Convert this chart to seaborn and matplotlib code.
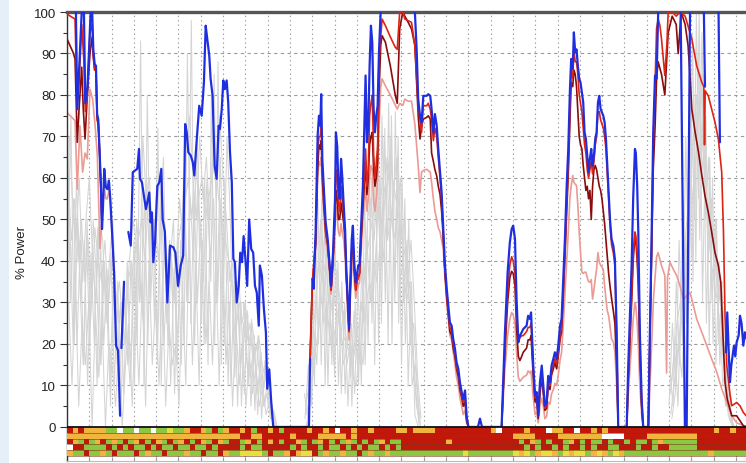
import numpy as np
import matplotlib
matplotlib.use("Agg")
import matplotlib.pyplot as plt
import seaborn as sns
from matplotlib.colors import ListedColormap
from matplotlib.patches import Rectangle

nan = np.nan

# ---------------- data ----------------
BLUE_T = [3.6, 4.0, 4.6, 5.5, 6.6, 7.1, 7.6, 8.2, 9.2, 10.6, 11.0, 11.3, 11.8, 12.4, 13.0, 13.5, 14.0, 14.7,
          15.2, 15.7, 16.1, 16.7, 17.4, 18.1, 18.8, 19.4, 20.2, 21.1, 22.0, 22.9, 23.8, 24.1, 24.4, 25.6, 26.0,
          27.5, 28.6, 29.5, 30.5, 31.5, 32.3, 32.7, 33.6, 34.5, 35.4, 36.9, 37.5, 38.1, 38.7, 39.5, 40.5, 41.4,
          42.3, 42.9, 43.9, 45.0, 46.2, 47.7, 48.6, 49.8, 51.0, 52.1, 53.0, 53.7, 54.4, 55.5, 56.4, 57.1, 58.2,
          59.3, 60.4, 61.4, 62.2, 62.9, 63.8, 64.4, 65.3, 66.2, 67.1, 68.0, 68.6, 69.4, 70.1, 70.8, 71.6, 72.3,
          73.1, 73.9, 74.6, 75.3, 76.1, 77.0, 77.7, 78.5, 79.2, 80.0, 80.8, 81.7, 82.6, 83.5, 84.3, 85.1, 86.0,
          86.5, 87.4, 88.3, 89.2, 89.8, 90.7, 91.6, 92.5, 108.5, 109.0, 109.5,
          110.0, 110.6, 111.5, 112.4, 113.0, 113.6, 114.0, 114.5, 115.1, 116.0, 116.9, 117.8, 118.4, 119.3,
          120.2, 120.6, 121.2, 121.7, 122.3, 122.9, 123.4, 124.1, 124.7, 125.2, 125.9, 126.5, 127.0, 127.7,
          128.2, 128.8, 129.5, 130.0, 130.6, 131.2, 131.8, 132.7, 133.3, 133.9, 134.5, 135.1, 135.7, 136.3,
          136.9, 137.5, 138.1, 138.7, 139.3, 139.9, 140.7, 141.7, 154.7, 156.0, 156.8, 157.5, 158.3, 159.0,
          159.8, 161.3, 162.0, 162.9, 163.5, 164.3, 165.0, 165.8, 166.5, 167.3, 168.0, 168.7, 169.5, 170.3,
          171.0, 171.7, 172.5, 173.2, 174.0, 174.7, 175.5, 176.2, 177.0, 177.7, 178.5, 179.2, 180.0, 184.3,
          185.2, 186.1, 194.9, 196.4, 197.6, 198.6, 199.4, 200.1, 200.9, 201.6, 202.4, 203.1, 203.9, 204.6,
          206.1, 206.8, 207.6, 208.1, 208.6, 209.1, 209.9, 210.6, 211.3, 212.1, 212.9, 213.6, 214.3, 215.1,
          215.8, 216.6, 217.3, 218.1, 218.8, 219.6, 220.3, 221.1, 221.8, 222.5, 223.3, 224.1, 224.8, 225.5,
          226.1, 226.8, 227.3, 227.9, 228.5, 229.1, 229.7, 230.3, 230.9, 231.5, 232.1, 232.7, 233.3, 233.9,
          234.5, 235.1, 235.7, 236.3, 236.9, 237.5, 238.1, 238.7, 239.3, 239.9, 240.5, 241.1, 241.7, 242.3,
          242.9, 243.5, 244.2, 245.0, 245.7, 246.5, 247.2, 251.0, 251.7, 253.2, 253.9, 254.7, 255.1, 255.7,
          256.2, 256.9, 257.7, 258.4, 260.7, 261.4, 262.2, 262.9, 263.7, 264.4, 265.1, 265.9, 274.4, 275.2,
          277.1, 277.9, 279.4, 280.3, 285.2, 286.1, 286.4, 291.9, 292.8, 293.2, 295.5, 296.1, 296.7, 297.3,
          297.9, 299.1, 299.7, 300.3, 301.2, 301.8, 302.5, 303.3, 304.0, 304.9]
BLUE_V = [115, 100, 76.6, 87, 100, 108, 100, 78, 82, 100, 106, 100, 91, 87.5, 87, 75.4, 74.2, 65.4,
          58, 47.7, 52.5, 62.2, 57.8, 57.3, 59.4, 55, 47, 37.3, 19.6, 18.4, 2.7, nan, 19, 35, nan,
          47, 43.7, 61.4, 61.8, 62.2, 67, 59.8, 59, 55.7, 52.5, 56.5, 49.3, 51.7, 39.7, 44.5, 58, 59,
          62.2, 50, 47, 30, 43.7, 43.3, 42, 34, 38.9, 41.3, 73, 71, 66.2, 65.4, 63.8, 60.6, 69.4,
          77.4, 75, 83, 96.7, 93.5, 89.5, 83.9, 79.8, 63, 59.8, 72.6, 71.8, 76.6, 83.5, 81.4, 83.5, 78.2,
          66.2, 59, 40.5, 39.7, 30, 34, 42, 39.7, 46, 40.5, 34, 50, 42.9, 42, 34, 32.4, 24.4,
          38.9, 36.5, 28.4, 22.8, 9.2, 13.9, 5.9, 0, 0, 16.4, nan,
          35.7, 33.3, 47, 70.2, 75, 72.6, 80.2, 64.6, 58.2, 49.3, 45.3, 38.9, 34, 42,
          55, 71, 67.5, 58.2, 55, 64.6, 60.6, 53.3, 47.7, 38.9, 30.8, 23.6, 34, 45.3,
          48.5, 39.7, 34.9, 36.5, 38.9, 38.9, 47, 58.2, 71, 84.7, 68.6, 72.6, 87, 96.7,
          92.7, 76.6, 71, 75, 77.4, 90.3, 100, 115, 115, 100, 91, 79, 75, 73.4,
          79.8, 79.8, 80.2, 79.8, 76.6, 71, 75.4, 72.6, 67, 61.4, 56.5, 48.5, 38.9, 33.3,
          29.2, 25.2, 24.4, 21.2, 18.8, 15.6, 14, 10.8, 8.4, 6.7, 8.8, 2.7, 0, 0,
          2, 0, 0, 22.8, 37.3, 44.5, 47.7, 48.5, 45.3, 30.8, 20.4, 22, 22.8, 23.6,
          24.4, 26.8, 26, 27.6, 21.2, 14.8, 7.6, 8.4, 2.7, 10.8, 14.8, 10, 5.1, 5.9,
          12.3, 10.8, 14.8, 16.4, 18, 16.4, 19.6, 24.4, 26, 34.9, 45.3, 58.2, 67, 80.6,
          88.7, 86.3, 95.1, 90.3, 91, 87, 83.9, 83, 80.6, 78.2, 71, 69.4, 65.4, 61.4,
          64.6, 67, 63, 65.4, 69.4, 71, 78.2, 79.8, 76.6, 75.8, 75, 73.4, 69.4, 63,
          56.5, 50.1, 45.3, 43.7, 40.5, 22.8, 0, 0, 14.8, 38.9, 55, 67, 66, 58.2,
          47, 22.8, 6.7, 0, 0, 22.8, 47, 71, 84.7, 83.9, 100, 115, 115, 100,
          0, 0, 100, 115, 115, 82, nan, 115, 68.6, nan, 18, 27.6, 18.8, 10.8,
          14.8, 19.6, 17, 20.4, 22, 26.8, 25, 19.6, 22.8, 21]

# shared sample times for the mid-chart peaks
B_T = [109.0, 110.0, 111.5, 112.4, 113.0, 113.6, 114.0, 114.5, 115.1, 116.0, 116.9, 117.8, 118.4, 119.3,
       120.2, 120.6, 121.2, 121.7, 122.3, 122.9, 123.4, 124.1, 124.7, 125.2, 125.9, 126.5, 127.0, 127.7,
       128.2, 128.8, 129.5, 130.0, 130.6, 131.2, 131.8, 132.7, 133.3, 133.9, 134.5, 135.1, 135.7, 136.3,
       136.9, 137.5, 138.1, 138.7, 139.3, 139.9, 140.7, 141.3, 142.8, 145.0, 147.2, 148.1, 149.2, 150.6,
       151.5, 153.0, 154.5, 156.0, 157.5, 158.3, 159.0, 159.8, 161.3, 162.0, 162.9, 163.5, 164.3, 165.0,
       165.8, 166.5, 167.3, 168.0, 168.7, 169.5, 170.3, 171.0, 171.7, 172.5, 173.2, 174.0, 174.7, 175.5,
       176.2, 177.0, 177.7, 178.5, 179.2, 180.0]
C_T = [194.9, 196.4, 197.6, 198.6, 199.4, 200.1, 200.9, 201.6, 202.4, 203.1, 203.9, 204.6, 206.1, 206.8,
       207.6, 208.1, 208.6, 209.1, 209.9, 210.6, 211.3, 212.1, 212.9, 213.6, 214.3, 215.1, 215.8, 216.6,
       217.3, 218.1, 218.8, 219.6, 220.3, 221.1, 221.8, 222.5, 223.3, 224.1, 224.8, 225.5, 226.1, 226.8,
       227.3, 227.9, 228.5, 229.1, 229.7, 230.3, 230.9, 231.5, 232.1, 232.7, 233.3, 233.9, 234.5, 235.1,
       235.7, 236.3, 236.9, 237.5, 238.1, 238.7, 239.3, 239.9, 240.5, 241.1, 241.7, 242.3, 242.9, 243.5,
       244.2, 245.0, 245.7, 246.5, 247.2]
D_T = [251.0, 251.7, 253.2, 253.9, 254.7, 255.1, 255.7, 256.2, 256.9, 257.7, 258.4]

RED_A_T = [0, 3.6, 4.6, 5.5, 6.6, 7.6, 8.2, 9.1, 10.3, 11.3, 11.8, 12.4, 13.0, 13.5, 14.0, 14.7, 15.2, 15.7]
RED_A_V = [99.5, 98.3, 77.4, 84, 97, 88, 76, 80, 95, 97, 90, 86, 86, 75, 74, 65.4, 58, 47.7]
RED_B = [16, 35, 45, 66, 70, 70, 73, 62, 56, 47, 44, 38, 33, 41, 52, 62, 60, 54, 52, 58, 55, 51, 46, 38,
         30, 23, 33, 43, 46, 38, 33, 35, 36, 37, 45, 55, 60, 67, 58, 62, 75, 78, 80, 66, 60, 63, 68, 88,
         94, 98.3, 96.7, 94, 91.5, 91, 100, 100, 98.3, 97.9, 97.5, 91.9, 77.4, 74, 71, 77.4, 77.4, 78,
         76.6, 74, 69, 72, 70, 65, 60, 55, 47, 37.5, 32, 28, 24, 23, 20, 17.5, 14.5, 13, 10, 7.5, 6, 7.5, 2, 0]
RED_C = [0, 20, 33, 39, 41, 40, 37, 28, 21, 21.5, 22, 22, 23, 24, 24, 25, 20, 14, 7, 7.5, 2.5, 9.5, 13, 9,
         4.5, 5, 11, 10, 13.5, 15, 16.5, 15, 18, 22, 24, 32, 42, 54, 63, 76, 86, 84, 91, 88, 88, 85, 80,
         78, 76, 72, 68, 66, 62, 60, 62, 64, 61, 64, 68, 70, 76, 76, 74, 73, 72, 70, 67, 61, 55, 49, 44,
         42, 39, 21, 0]
RED_D = [0, 12, 32, 42, 47, 46, 42, 36, 20, 6, 0]
RED_E_T = [260.7, 261.4, 262.2, 262.9, 263.7, 264.4, 265.1, 265.9, 266.6, 268.1, 269.0, 269.6, 271.4, 273.2,
           275.0, 277.2, 279.4, 280.2, 282.4, 284.7, 285.6, 285.9, 286.2, 287.6, 289.1, 290.6, 292.1, 293.6,
           294.4, 295.1, 295.9, 297.3, 298.1, 300.3, 301.8, 303.3, 304.9]
RED_E_V = [0, 22, 45, 68, 82, 96, 98.3, 96.7, 93.5, 84.7, 92, 100, 100, 99, 100, 99, 95, 93.5, 87, 83, 82,
           68, 81, 79.8, 76.6, 73.4, 69.4, 61.4, 47, 26.8, 14.8, 8, 5.1, 5.9, 5.1, 3.5, 2.5]

MAROON_A_T = [0, 2.7, 3.6, 4.6, 5.5, 6.6, 7.3, 8.1, 9.1, 10.3, 11.3, 11.8, 12.4, 13.0, 13.5, 14.0, 14.7, 15.2, 15.7]
MAROON_A_V = [93.5, 90.3, 88.7, 68.6, 77.4, 86.7, 76.6, 69.4, 79.8, 90, 94, 89, 86, 86, 74, 73, 65, 57.5, 47.7]
MAROON_B = [16, 34, 44, 62, 68, 67, 69, 60, 54, 47, 44, 38, 33, 40, 50, 57, 55, 50, 50, 54, 52, 49, 45, 37,
            30, 23, 33, 42, 45, 38, 33, 35, 36, 37, 44, 53, 58, 64, 56, 60, 68, 70, 71, 62, 58, 60, 64, 80,
            92, 94.3, 92.7, 87, 80, 78, 96, 100, 99, 97.5, 95.9, 92, 75, 69.4, 72.6, 74.2, 74.6, 75, 74.2,
            66, 64, 62, 60.5, 58, 56, 52, 46, 37, 31, 27, 23, 22, 19, 17, 14, 12, 9, 7, 5, 6, 1.5, 0]
MAROON_C = [0, 18, 30, 36, 37.5, 37, 34, 24, 17, 16, 17, 18, 19, 21, 21, 22, 17, 12, 6, 7, 2, 8, 12, 8, 4,
            4.5, 10, 9, 12.5, 14, 15.5, 14, 17, 21, 23, 31, 41, 52, 61, 73, 83, 82, 86, 85, 82, 76, 70, 68,
            67, 63, 60, 57, 58, 55, 57, 50, 58, 62, 63, 62, 60, 58, 57, 55, 52, 49, 45, 41, 37, 34, 31, 28,
            25, 14, 0]
MAROON_D = [0, 11, 30, 40, 46, 45, 40, 34, 18, 5, 0]
MAROON_E_T = [260.7, 261.4, 262.2, 262.9, 263.7, 264.4, 265.1, 266.6, 268.1, 269.6, 271.4, 273.2, 274.1,
              275.4, 277.2, 278.5, 279.4, 280.2, 281.7, 283.2, 284.7, 286.1, 287.6, 289.1, 290.6, 292.1,
              293.2, 294.1, 295.1, 296.1, 298.1, 300.3, 303.3, 304.9]
MAROON_E_V = [0, 21, 42, 62, 72, 84, 88, 85, 80, 95, 99, 97, 90, 100, 97, 92, 84.7, 76.6, 71, 66.2, 60.6,
              55.7, 51.7, 47, 42, 38.9, 34.9, 22.8, 10.8, 6.7, 2.7, 2.7, 0.3, 0]

PINK_A_T = [0, 3.6, 4.6, 5.8, 7.0, 8.1, 9.1, 10.3, 11.5, 12.6, 13.6, 14.8, 15.7, 16.7, 17.4, 18.1, 18.8,
            19.4, 20.2, 21.1]
PINK_A_V = [75.8, 73.8, 57.3, 72.6, 61.4, 66, 64.6, 81.4, 79, 72.6, 65.4, 43, 50, 58, 55, 55, 57, 55, 47, 37.3]
PINK_B = [15, 33, 43, 60, 64, 63, 65, 57, 52, 45, 42, 37, 32, 38, 47, 53, 51, 47, 46, 49, 47, 45, 41, 35,
          28, 21, 30, 38, 41, 35, 31, 33, 34, 35, 41, 50, 54, 58, 52, 55, 60, 63, 62, 54, 52, 55, 60, 72,
          82, 83.9, 82.2, 80, 77.6, 76.6, 78, 77.5, 79, 78.5, 78.5, 73, 63, 56.5, 61.4, 61.8, 62.1, 61.8,
          61.4, 59, 55, 52, 50, 48, 47, 45, 43, 36, 30, 26, 22, 21, 18, 15, 12, 10, 7, 5, 3, 4, 1, 0]
PINK_C = [0, 14, 22, 26, 27.6, 27, 25, 18, 12, 11, 11.5, 12, 12.5, 13.5, 13, 13.5, 10, 7, 3, 3.5, 1, 5, 7,
          5, 2, 2.5, 6, 5.5, 8, 9, 10.5, 10, 12.5, 16, 18, 24, 32, 40, 47, 55, 58, 60.6, 59, 58.5, 58.2,
          53.3, 47, 42, 37.3, 37, 37.3, 37.3, 36, 35, 34.9, 35.5, 30.8, 33, 35.7, 38, 42, 39.7, 39, 38.5,
          38, 34, 30.8, 28, 26.8, 24.4, 21.2, 20.5, 18, 10, 0]
PINK_D = [0, 8, 20, 26, 30, 29, 25, 20, 10, 3, 0]
PINK_E_T = [260.7, 263.0, 264.4, 265.1, 266.6, 268.1, 268.9, 269.3, 270.4, 271.9, 273.4, 274.9, 276.4,
            279.4, 280.2, 282.4, 284.7, 286.9, 289.1, 291.4, 293.6, 295.9, 298.1, 300.3, 304.9]
PINK_E_V = [0, 30.8, 41, 42, 38.9, 36.5, 13, 36, 39.7, 38, 36.5, 34, 30.8, 32.4, 30.8, 26, 22.8, 19.6,
            16.4, 13.2, 9.2, 5.9, 2.7, 1, 0]

# grey background traces, sampled every GRAY_STEP from each burst start
GRAY_STEP = 1.5
GRAY1_START = 0.0
GRAY1_A = [80, 30, 55, 20, 45, 15, 50, 25, 40, 10, 45, 20, 38, 5, 35, 15, 30, 8, 40, 12, 45, 20, 93, 10, 80,
           30, 50, 15, 55, 20, 40, 10, 38, 15, 45, 20, 90, 25, 55, 30, 50, 20, 55, 35, 85, 30, 55, 20, 40, 10,
           35, 5, 30, 8, 28, 5, 22, 3, 18, 5, 12, 2, 2]
GRAY1_B = [40, 75, 20, 50, 30, 45, 10, 42, 20, 48, 15, 40, 25, 42, 10, 35, 5, 32, 15, 40, 10, 48, 30, 55, 20,
           52, 25, 72, 10, 50, 20, 42, 8, 45, 15, 55, 30, 98, 20, 58, 25, 60, 15, 80, 20, 88, 15, 60, 10, 40,
           12, 35, 5, 30, 10, 26, 4, 22, 2, 16, 5, 6, 0]
GRAY1_C = [60, 45, 55, 40, 50, 35, 45, 30, 48, 40, 35, 45, 30, 40, 35, 25, 30, 20, 35, 40, 30, 45, 50, 40, 55,
           45, 50, 40, 55, 45, 35, 40, 30, 45, 50, 55, 60, 50, 65, 55, 60, 50, 55, 60, 65, 55, 50, 45, 40, 35,
           30, 35, 25, 30, 20, 25, 18, 22, 15, 12, 8, 5, 1]
GRAY1_D = [30, 10, 35, 5, 25, 15, 30, 0, 28, 12, 25, 0, 20, 15, 5, 20, 0, 15, 25, 5, 30, 10, 35, 5, 40, 15, 30,
           10, 35, 5, 25, 15, 20, 5, 35, 10, 45, 15, 40, 10, 45, 20, 35, 15, 40, 10, 45, 15, 30, 5, 25, 10, 20,
           5, 18, 8, 15, 5, 10, 3, 6, 1, 0]
GRAY1_E = [70, 55, 45, 60, 35, 50, 60, 40, 30, 50, 45, 25, 40, 50, 30, 35, 25, 30, 40, 50, 45, 30, 70, 55, 60,
           40, 55, 60, 45, 35, 45, 30, 40, 55, 45, 65, 75, 60, 50, 70, 55, 65, 50, 70, 55, 75, 60, 50, 35, 40,
           25, 30, 30, 20, 25, 15, 20, 12, 8, 15, 5, 3, 0]
GRAY1_F = [50, 20, 60, 35, 15, 45, 20, 50, 35, 15, 40, 30, 10, 35, 25, 10, 35, 25, 10, 30, 50, 35, 25, 60, 35,
           50, 20, 45, 65, 25, 40, 50, 20, 35, 60, 30, 55, 40, 70, 45, 35, 60, 40, 55, 30, 65, 35, 70, 50, 20,
           35, 15, 25, 15, 12, 20, 8, 15, 5, 8, 2, 4, 0]

GRAY2_START = 106.5
GRAY2_A = [8, 2, 30, 10, 55, 15, 50, 10, 40, 12, 40, 8, 30, 5, 25, 8, 35, 10, 55, 20, 60, 15, 70, 25, 72, 20,
           75, 30, 70, 15, 55, 10, 35, 3, 0]
GRAY2_B = [2, 15, 5, 45, 20, 55, 10, 45, 15, 45, 10, 35, 8, 30, 5, 30, 10, 40, 15, 65, 25, 65, 20, 75, 30, 78,
           20, 76, 25, 60, 20, 50, 10, 15, 2]
GRAY2_C = [5, 10, 20, 30, 40, 35, 40, 30, 35, 30, 25, 20, 22, 18, 15, 20, 25, 30, 40, 45, 50, 55, 50, 60, 55,
           65, 60, 55, 50, 45, 40, 30, 20, 8, 0]
GRAY2_D = [0, 5, 12, 20, 25, 45, 20, 35, 25, 20, 30, 15, 18, 25, 12, 10, 20, 15, 30, 35, 30, 45, 60, 40, 50,
           45, 55, 65, 35, 40, 30, 35, 15, 5, 1]
GRAY2_E = [3, 8, 25, 15, 35, 25, 30, 20, 28, 38, 20, 28, 15, 20, 18, 25, 15, 35, 45, 30, 40, 35, 45, 50, 65,
           55, 45, 50, 60, 30, 45, 20, 25, 10, 0]
GRAY2_F = [0, 10, 15, 35, 50, 30, 45, 25, 15, 35, 30, 25, 30, 12, 28, 15, 30, 25, 50, 55, 45, 60, 35, 70, 45,
           70, 35, 65, 45, 50, 35, 45, 30, 12, 2]

GRAY3_START = 270.0
GRAY3_A = [5, 25, 10, 45, 20, 70, 30, 95, 40, 100, 30, 75, 20, 60, 15, 40, 10, 15, 2, 0]
GRAY3_B = [15, 5, 35, 15, 55, 25, 85, 35, 100, 45, 85, 25, 65, 20, 50, 15, 28, 5, 6, 0]
GRAY3_C = [8, 15, 25, 30, 40, 50, 60, 70, 80, 75, 65, 55, 50, 45, 35, 30, 20, 10, 3, 0]
GRAY3_D = [3, 10, 18, 25, 35, 45, 50, 60, 70, 85, 60, 50, 40, 35, 30, 20, 15, 8, 2, 0]
GRAY3_E = [10, 20, 5, 35, 45, 35, 75, 50, 90, 60, 70, 40, 55, 30, 40, 25, 12, 3, 1, 0]
GRAY3_F = [2, 8, 20, 12, 30, 60, 40, 80, 55, 95, 50, 65, 30, 50, 20, 35, 5, 10, 0, 0]

# status bands (one letter per cell)
CELL_WIDTH = 2.5
BAND_ROW1 = ("ROROOOOGGW" "GGWGGWGGYG" "GORROGRGOR" "RORGRRORGR" "RRRORRORWR" "RORRORRRRO"
             "OROOOORRRR" "RRRRRROWRR" "RRORRRWOOR" "RWRRORORRR" "RRRRRRRRRR" "RRRRRRORRO" "RR")
BAND_ROW2 = ("OOOOOOOOOO" "OOOOOOOOOO" "OOOOOOOOOO" "ORROORRRRR" "ORRRROOOOO" "RORRRRRRRR"
             "RRRRRRRRRR" "RRRRRRRRRR" "OOOORRRROO" "OOOOOOWWWW" "RRRROOOOOO" "OOORRRRRRR" "RR")
BAND_ROW3 = ("ROGRGORGOG" "RGORGROGRG" "ORGROGROGR" "RGORGRORGR" "ROGRGORGRG" "OGRGRGORGG"
             "RRRRRRRROR" "RRRRRRRRRR" "RGROGRGRRG" "ORGRGGRGRR" "GRGGRGOGGG" "GGGRRRRRRR" "RR")
BAND_ROW4 = ("WRRGGGGRGR" "GRGGRGRGGR" "GGRGGRGRRR" "RGRGGRRRRR" "GRGRRGRGGR" "GRGRGGRGRG"
             "RRRRRRRRRR" "RRRRRRRRRR" "RRGRGRRGRG" "RRGRGRRGGR" "RRGRRGRRGG" "GGGRRRRRRR" "RR")
BAND_ROW5 = ("OGGRGGOGRG" "GGRGOGGRGG" "GOGGRGGROG" "GYYYYGRGGO" "ROYYRGOGGO" "GGRGOGGOGG"
             "GGGGGGGGGG" "GYGGGGGGGG" "YOYGOYYOGY" "OYYGOYOGYO" "GGGGGGGGGG" "GGGGGOGGGG" "GG")
BAND_CODES = "ROGYW"
BAND_COLORS = ["#c0190b", "#f1b43e", "#8dc640", "#e6e03c", "#ffffff"]

# ---------------- figure ----------------
sns.set_theme(style="white")
plt.rcParams['font.family'] = ['Liberation Sans', 'DejaVu Sans']

fig = plt.figure(figsize=(7.46, 4.64), dpi=100)
fig.patch.set_facecolor("white")
fig.patches.append(Rectangle((0, 0), 9 / 746, 1, transform=fig.transFigure,
                             facecolor="#e6eef8", edgecolor="none", zorder=0))
ax = fig.add_axes([67 / 746, 1.6 / 464, 679 / 746, 449.4 / 464])
ax.set_facecolor("white")


def draw(t, v, color, lw, z, alpha=1.0):
    t = np.asarray(t, float)
    v = np.asarray(v, float)
    bad = np.isnan(v)
    seg = np.cumsum(bad)
    for s in np.unique(seg[~bad]):
        m = (~bad) & (seg == s)
        if m.sum() < 2:
            continue
        sns.lineplot(x=t[m], y=v[m], ax=ax, color=color, linewidth=lw, zorder=z,
                     sort=False, estimator=None, alpha=alpha)


# grey traces
for start, series in [(GRAY1_START, [GRAY1_A, GRAY1_B, GRAY1_C, GRAY1_D, GRAY1_E, GRAY1_F]),
                      (GRAY2_START, [GRAY2_A, GRAY2_B, GRAY2_C, GRAY2_D, GRAY2_E, GRAY2_F]),
                      (GRAY3_START, [GRAY3_A, GRAY3_B, GRAY3_C, GRAY3_D, GRAY3_E, GRAY3_F])]:
    for k, vals in enumerate(series):
        tt = start + GRAY_STEP * np.arange(len(vals)) + 0.25 * k
        draw(tt, vals, "#d4d4d4", 0.75, 1)

pink_t = PINK_A_T + [nan] + B_T + [nan] + C_T + [nan] + D_T + [nan] + PINK_E_T
pink_v = PINK_A_V + [nan] + PINK_B + [nan] + PINK_C + [nan] + PINK_D + [nan] + PINK_E_V
maroon_t = MAROON_A_T + [nan] + B_T + [nan] + C_T + [nan] + D_T + [nan] + MAROON_E_T
maroon_v = MAROON_A_V + [nan] + MAROON_B + [nan] + MAROON_C + [nan] + MAROON_D + [nan] + MAROON_E_V
red_t = RED_A_T + [nan] + B_T + [nan] + C_T + [nan] + D_T + [nan] + RED_E_T
red_v = RED_A_V + [nan] + RED_B + [nan] + RED_C + [nan] + RED_D + [nan] + RED_E_V

draw(pink_t, pink_v, "#eb9a94", 1.2, 2)
draw(maroon_t, maroon_v, "#8a0c0c", 1.2, 3)
draw(red_t, red_v, "#dd2414", 1.2, 4)
draw(BLUE_T, BLUE_V, "#1f2fe0", 1.6, 5)

# status bands
cmap = ListedColormap(BAND_COLORS)
row_h = 1.4
for r, row in enumerate([BAND_ROW1, BAND_ROW2, BAND_ROW3, BAND_ROW4, BAND_ROW5]):
    z = np.array([[BAND_CODES.index(c) for c in row]])
    xe = np.arange(len(row) + 1) * CELL_WIDTH
    ye = [-(r + 1) * row_h, -r * row_h]
    ax.pcolormesh(xe, ye, z, cmap=cmap, vmin=-0.5, vmax=4.5, zorder=6, shading="flat",
                  edgecolors="none", antialiased=False)
for r in range(1, 6):
    ax.axhline(-r * row_h, color="#7a3418", lw=0.4, zorder=6.5)
ax.axhline(0, color="#111111", lw=1.3, zorder=7)

# axes styling
ax.set_xlim(0, 304.5)
ax.set_ylim(-8.3, 100)
ax.set_xticks(np.arange(0, 305, 10))
ax.set_xticklabels([])
ax.set_yticks(np.arange(0, 101, 10))
ax.set_yticks(np.arange(5, 100, 10), minor=True)
ax.tick_params(axis="y", which="major", direction="out", length=5, width=0.8, color="#333333",
               labelsize=9.5, labelcolor="#222222", pad=3, left=True)
ax.tick_params(axis="y", which="minor", direction="out", length=3, width=0.8, color="#333333", left=True)
ax.tick_params(axis="x", which="major", direction="in", length=3, width=0.8, color="#999999", bottom=True)

ax.set_axisbelow(True)
ax.grid(axis="y", which="major", color="#9a9a9a", linestyle=(0, (3, 3)), linewidth=0.8)
ax.grid(axis="x", which="major", color="#9a9a9a", linestyle=(0, (1.2, 2.8)), linewidth=0.8)

ax.spines["top"].set_color("#555555")
ax.spines["top"].set_linewidth(2.4)
ax.spines["left"].set_color("#333333")
ax.spines["left"].set_linewidth(1.0)
ax.spines["bottom"].set_color("#bbbbbb")
ax.spines["bottom"].set_linewidth(0.8)
ax.spines["right"].set_visible(False)

ax.set_xlabel("")
ax.set_ylabel("% Power", fontsize=9.5, color="#222222")
ax.yaxis.set_label_coords(-0.058, 0.468)

fig.savefig("out.png", dpi=100, facecolor=fig.get_facecolor())
